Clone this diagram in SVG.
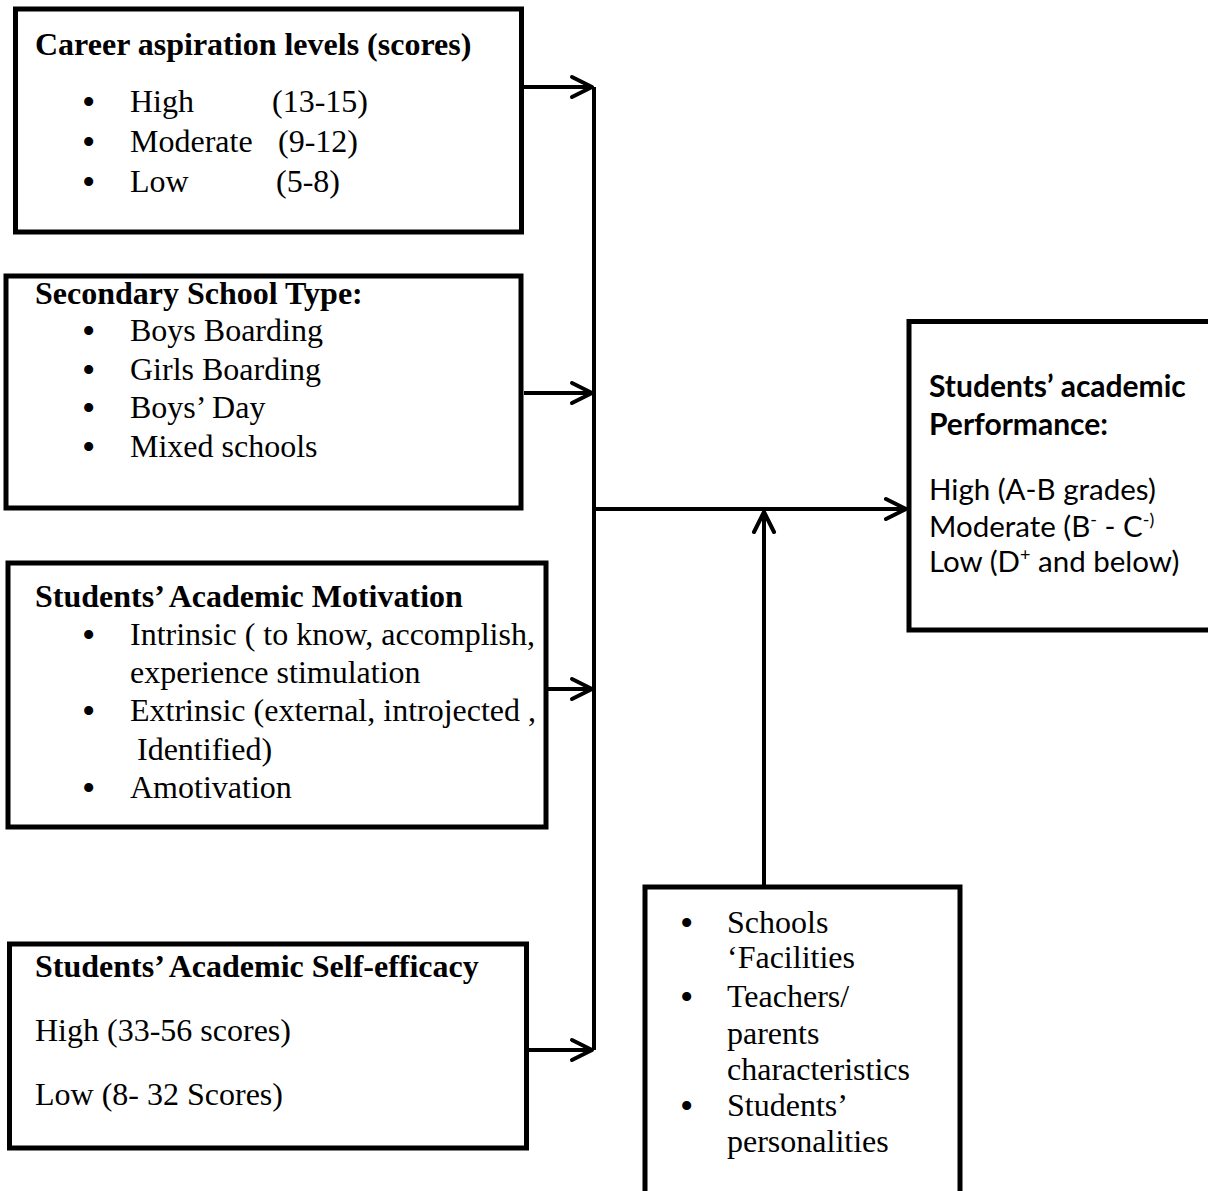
<svg xmlns="http://www.w3.org/2000/svg" width="1208" height="1191" viewBox="0 0 1208 1191">
<style>
.box{fill:#fff;stroke:#000;stroke-width:5}
.t{font-family:"Liberation Serif","Times New Roman",serif;font-size:32px;fill:#000}
.b{font-weight:bold}
.u{font-family:"Liberation Serif","Times New Roman",serif;font-size:38px;fill:#000}
.s{font-family:Lato,"Liberation Sans",sans-serif;font-size:29.5px;fill:#000}
.sb{font-family:Lato,"Liberation Sans",sans-serif;font-size:30px;font-weight:bold;fill:#000}
.c{fill:none;stroke:#000;stroke-width:4}
</style>
<defs>
<marker id="ah" markerUnits="userSpaceOnUse" viewBox="0 0 26 26" markerWidth="26" markerHeight="26" refX="23" refY="13" orient="auto">
<path d="M3,3 L23,13 L3,23" fill="none" stroke="#000" stroke-width="4" stroke-linecap="round" stroke-linejoin="round"/>
</marker>
</defs>
<rect width="1208" height="1191" fill="#fff"/>
<g id="connectors">
<line class="c" x1="594" y1="87" x2="594" y2="1050"/>
<line class="c" x1="524" y1="87" x2="592" y2="87" marker-end="url(#ah)"/>
<line class="c" x1="524" y1="393" x2="592" y2="393" marker-end="url(#ah)"/>
<line class="c" x1="548" y1="689" x2="592" y2="689" marker-end="url(#ah)"/>
<line class="c" x1="529" y1="1050" x2="592" y2="1050" marker-end="url(#ah)"/>
<line class="c" x1="592" y1="509" x2="906" y2="509" marker-end="url(#ah)"/>
<line class="c" x1="764" y1="885" x2="764" y2="512" marker-end="url(#ah)"/>
</g>
<g id="career">
<rect class="box" x="15.5" y="9" width="506" height="223"/>
<text class="t b" x="35" y="55">Career aspiration levels (scores)</text>
<text class="u" x="82" y="115">•</text><text class="t" x="130" y="112">High</text><text class="t" x="272" y="112">(13-15)</text>
<text class="u" x="82" y="155">•</text><text class="t" x="130" y="152">Moderate</text><text class="t" x="278" y="152">(9-12)</text>
<text class="u" x="82" y="195">•</text><text class="t" x="130" y="192">Low</text><text class="t" x="276" y="192">(5-8)</text>
</g>
<g id="schooltype">
<rect class="box" x="6" y="276" width="515" height="232"/>
<text class="t b" x="35" y="304">Secondary School Type:</text>
<text class="u" x="82" y="344">•</text><text class="t" x="130" y="341">Boys Boarding</text>
<text class="u" x="82" y="383">•</text><text class="t" x="130" y="380">Girls Boarding</text>
<text class="u" x="82" y="421">•</text><text class="t" x="130" y="418">Boys’ Day</text>
<text class="u" x="82" y="460">•</text><text class="t" x="130" y="457">Mixed schools</text>
</g>
<g id="motivation">
<rect class="box" x="8" y="563" width="538" height="264"/>
<text class="t b" x="35" y="607">Students’ Academic Motivation</text>
<text class="u" x="82" y="648">•</text><text class="t" x="130" y="645">Intrinsic ( to know, accomplish,</text>
<text class="t" x="130" y="683">experience stimulation</text>
<text class="u" x="82" y="724">•</text><text class="t" x="130" y="721">Extrinsic (external, introjected ,</text>
<text class="t" x="137" y="760">Identified)</text>
<text class="u" x="82" y="801">•</text><text class="t" x="130" y="798">Amotivation</text>
</g>
<g id="selfefficacy">
<rect class="box" x="9.5" y="944" width="517" height="204"/>
<text class="t b" x="35" y="977">Students’ Academic Self-efficacy</text>
<text class="t" x="35" y="1041">High (33-56 scores)</text>
<text class="t" x="35" y="1105">Low (8- 32 Scores)</text>
</g>
<g id="performance">
<rect class="box" x="909" y="321.5" width="305" height="308.5"/>
<text class="sb" x="929" y="397">Students’ academic</text>
<text class="sb" x="929" y="435">Performance:</text>
<text class="s" x="929" y="500">High (A-B grades)</text>
<text class="s" x="929" y="537">Moderate (B<tspan font-size="18" dy="-11">-</tspan><tspan dy="11"> - C</tspan><tspan font-size="18" dy="-11">-)</tspan></text>
<text class="s" x="929" y="572">Low (D<tspan font-size="18" dy="-11">+</tspan><tspan dy="11"> and below)</tspan></text>
</g>
<g id="factors">
<rect class="box" x="645" y="887" width="315" height="320"/>
<text class="u" x="680" y="936">•</text><text class="t" x="727" y="933">Schools</text>
<text class="t" x="727" y="968">‘Facilities</text>
<text class="u" x="680" y="1010">•</text><text class="t" x="727" y="1007">Teachers/</text>
<text class="t" x="727" y="1044">parents</text>
<text class="t" x="727" y="1080">characteristics</text>
<text class="u" x="680" y="1119">•</text><text class="t" x="727" y="1116">Students’</text>
<text class="t" x="727" y="1152">personalities</text>
</g>
</svg>
